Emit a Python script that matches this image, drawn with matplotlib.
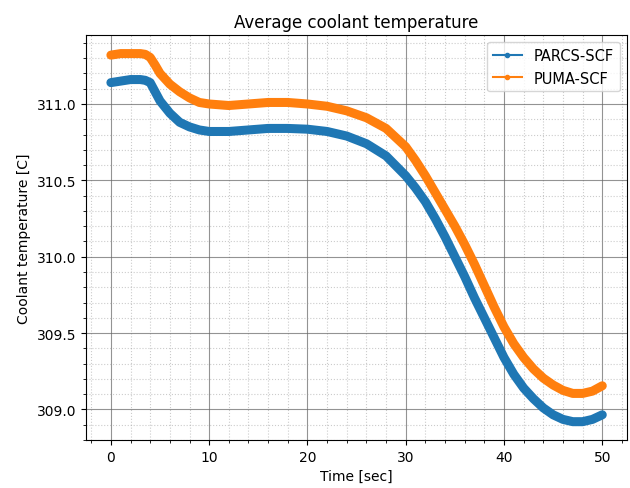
import matplotlib
matplotlib.use('Agg')
import matplotlib.pyplot as plt
from matplotlib.lines import Line2D

# time [sec] and average coolant temperature [C]
time_parcs = [0, 1, 2, 3, 3.5, 4, 4.5, 5, 6, 7, 8, 9, 10, 12, 14, 16, 18, 20, 22, 24, 26, 28,
              30, 31, 32, 33, 34, 35, 36, 37, 38, 39, 40, 41, 42, 43, 44, 45, 46, 47, 48, 49, 50]
temp_parcs = [311.14, 311.15, 311.16, 311.16, 311.155, 311.14, 311.08, 311.02, 310.94, 310.88,
              310.85, 310.83, 310.82, 310.82, 310.83, 310.84, 310.84, 310.835, 310.82, 310.79,
              310.74, 310.66, 310.53, 310.45, 310.36, 310.25, 310.13, 310.0, 309.87, 309.73,
              309.60, 309.47, 309.34, 309.23, 309.14, 309.07, 309.01, 308.965, 308.935, 308.92,
              308.92, 308.935, 308.965]

time_puma = [0, 1, 2, 3, 3.5, 4, 4.5, 5, 6, 7, 8, 9, 10, 12, 14, 16, 18, 20, 22, 24, 26, 28,
             30, 31, 32, 33, 34, 35, 36, 37, 38, 39, 40, 41, 42, 43, 44, 45, 46, 47, 48, 49, 50]
temp_puma = [311.32, 311.33, 311.33, 311.33, 311.325, 311.305, 311.255, 311.2, 311.13, 311.08,
             311.04, 311.01, 311.0, 310.99, 311.0, 311.01, 311.01, 311.0, 310.985, 310.955,
             310.91, 310.84, 310.72, 310.63, 310.53, 310.42, 310.31, 310.2, 310.08, 309.95,
             309.81, 309.67, 309.54, 309.43, 309.34, 309.265, 309.205, 309.16, 309.125, 309.105,
             309.105, 309.12, 309.155]

labels = ['PARCS-SCF', 'PUMA-SCF']
colors = ['#1f77b4', '#ff7f0e']

fig = plt.figure(figsize=(6.3, 4.89), dpi=100)
fig.subplots_adjust(left=0.137, right=0.995, top=0.926, bottom=0.098)

plt.plot(time_parcs, temp_parcs, color=colors[0], lw=6.5, solid_capstyle='round', solid_joinstyle='round')
plt.plot(time_puma, temp_puma, color=colors[1], lw=6.5, solid_capstyle='round', solid_joinstyle='round')

plt.minorticks_on()
plt.grid(which='major', color='#666666', linestyle='-', alpha=0.7)
plt.grid(which='minor', color='#999999', linestyle=':', alpha=0.5)

handles = [Line2D([], [], color=c, marker='.', lw=1.5) for c in colors]
plt.legend(handles, labels, loc='upper right', fontsize=10.5)

plt.xlabel('Time [sec]')
plt.ylabel('Coolant temperature [C]')
plt.title('Average coolant temperature')
plt.savefig('out.png')
